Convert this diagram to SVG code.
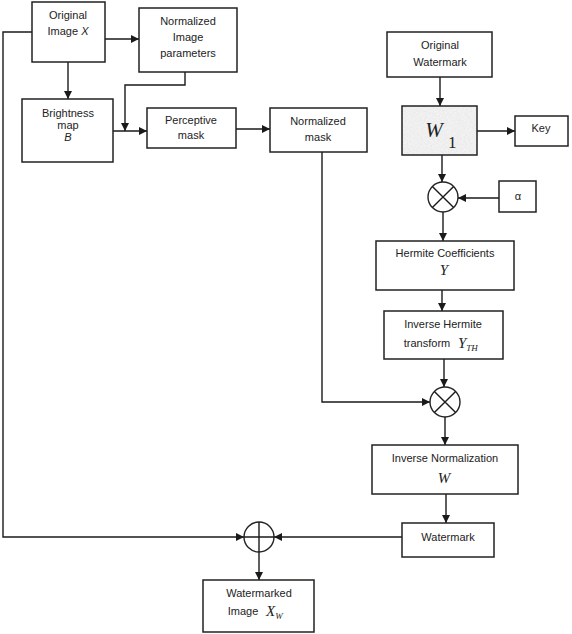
<svg xmlns="http://www.w3.org/2000/svg" width="572" height="634" viewBox="0 0 572 634">
<defs>
<marker id="ah" viewBox="0 0 10 10" refX="10" refY="5" markerWidth="9" markerHeight="8" markerUnits="userSpaceOnUse" orient="auto">
<path d="M0,0 L10,5 L0,10 z" fill="#1a1a1a"/>
</marker>
<filter id="noise" x="0" y="0" width="100%" height="100%">
<feTurbulence type="fractalNoise" baseFrequency="0.7" numOctaves="3" seed="5" result="t"/>
<feColorMatrix in="t" type="matrix" values="0 0 0 0 0.75  0 0 0 0 0.75  0 0 0 0 0.75  0 0 0 -1.4 0.85" result="g"/>
<feComposite in="g" in2="SourceGraphic" operator="in"/>
</filter>
<style>
.box{fill:#fff;stroke:#222;stroke-width:1.5}
.ln{fill:none;stroke:#1a1a1a;stroke-width:1.4}
.ar{fill:none;stroke:#1a1a1a;stroke-width:1.4;marker-end:url(#ah)}
.t{font-family:"Liberation Sans",Arial,sans-serif;font-size:11px;fill:#222;text-anchor:middle}
.v{font-family:"Liberation Serif","Times New Roman",serif;font-style:italic;fill:#222}
.op{fill:#fff;stroke:#222;stroke-width:1.4}
</style>
</defs>

<g id="connectors">
<path class="ar" d="M105,39 H139"/>
<path class="ar" d="M68,62 V99"/>
<path class="ar" d="M113,131 H147"/>
<path class="ar" d="M185,72 V85 H125 V131"/>
<path class="ar" d="M236,129 H270"/>
<path class="ar" d="M322,152 V402 H430"/>
<path class="ar" d="M32,32 H3 V537 H244"/>
<path class="ar" d="M440,77 V106"/>
<path class="ar" d="M477,131 H515"/>
<path class="ar" d="M442,155 V182"/>
<path class="ar" d="M499,198 H458"/>
<path class="ar" d="M443,212 V241"/>
<path class="ar" d="M442,290 V311"/>
<path class="ar" d="M444,359 V387"/>
<path class="ar" d="M445,417 V445"/>
<path class="ar" d="M446,494 V523"/>
<path class="ar" d="M402,537 H274"/>
<path class="ar" d="M259,552 V580"/>
</g>

<g id="original-image">
<rect class="box" x="32" y="2" width="73" height="60"/>
<text class="t" x="68" y="19">Original</text>
<text class="t" x="68" y="35">Image <tspan font-style="italic">X</tspan></text>
</g>

<g id="normalized-image-parameters">
<rect class="box" x="139" y="8" width="98" height="64"/>
<text class="t" x="188" y="25">Normalized</text>
<text class="t" x="188" y="41">Image</text>
<text class="t" x="188" y="57">parameters</text>
</g>

<g id="brightness-map">
<rect class="box" x="22" y="99" width="91" height="63"/>
<text class="t" x="68" y="117">Brightness</text>
<text class="t" x="68" y="129">map</text>
<text class="t" x="68" y="141" font-style="italic">B</text>
</g>

<g id="perceptive-mask">
<rect class="box" x="147" y="108" width="89" height="40"/>
<text class="t" x="191" y="124">Perceptive</text>
<text class="t" x="191" y="139">mask</text>
</g>

<g id="normalized-mask">
<rect class="box" x="270" y="108" width="97" height="44"/>
<text class="t" x="318" y="125">Normalized</text>
<text class="t" x="318" y="141">mask</text>
</g>

<g id="original-watermark">
<rect class="box" x="387" y="32" width="105" height="45"/>
<text class="t" x="440" y="49">Original</text>
<text class="t" x="440" y="66">Watermark</text>
</g>

<g id="w1">
<rect x="402" y="106" width="75" height="49" fill="#f2f2f2"/>
<rect x="402" y="106" width="75" height="49" fill="#fff" filter="url(#noise)"/>
<rect x="402" y="106" width="75" height="49" fill="none" stroke="#222" stroke-width="1.5"/>
<text class="v" x="434" y="137" font-size="21" text-anchor="middle">W</text>
<text x="448" y="148" font-family="Liberation Serif,'Times New Roman',serif" font-size="17" fill="#222">1</text>
</g>

<g id="key">
<rect class="box" x="515" y="116" width="53" height="30"/>
<text class="t" x="541" y="132">Key</text>
</g>

<g id="multiplier-1">
<circle class="op" cx="443" cy="197" r="15"/>
<path class="ln" d="M432.4,186.4 L453.6,207.6 M453.6,186.4 L432.4,207.6"/>
</g>

<g id="alpha">
<rect class="box" x="499" y="181" width="37" height="31"/>
<text class="t" x="518" y="200">α</text>
</g>

<g id="hermite-coefficients">
<rect class="box" x="376" y="241" width="138" height="49"/>
<text class="t" x="445" y="257">Hermite Coefficients</text>
<text class="v" x="444" y="275" font-size="15" text-anchor="middle">Y</text>
</g>

<g id="inverse-hermite">
<rect class="box" x="384" y="311" width="119" height="48"/>
<text class="t" x="443" y="328">Inverse Hermite</text>
<text class="t" x="427" y="347">transform</text>
<text class="v" x="458" y="348" font-size="15">Y<tspan font-size="9" dy="3">TH</tspan></text>
</g>

<g id="multiplier-2">
<circle class="op" cx="445" cy="402" r="15"/>
<path class="ln" d="M434.4,391.4 L455.6,412.6 M455.6,391.4 L434.4,412.6"/>
</g>

<g id="inverse-normalization">
<rect class="box" x="372" y="445" width="146" height="49"/>
<text class="t" x="445" y="462">Inverse Normalization</text>
<text class="v" x="444" y="483" font-size="15" text-anchor="middle">W</text>
</g>

<g id="watermark">
<rect class="box" x="402" y="523" width="92" height="34"/>
<text class="t" x="448" y="541">Watermark</text>
</g>

<g id="adder">
<circle class="op" cx="259" cy="537" r="15"/>
<path class="ln" d="M244,537 H274 M259,522 V552"/>
</g>

<g id="watermarked-image">
<rect class="box" x="203" y="580" width="111" height="52"/>
<text class="t" x="259" y="597">Watermarked</text>
<text class="t" x="243" y="615">Image</text>
<text class="v" x="266" y="616" font-size="15">X<tspan font-size="9" dy="3">W</tspan></text>
</g>
</svg>
